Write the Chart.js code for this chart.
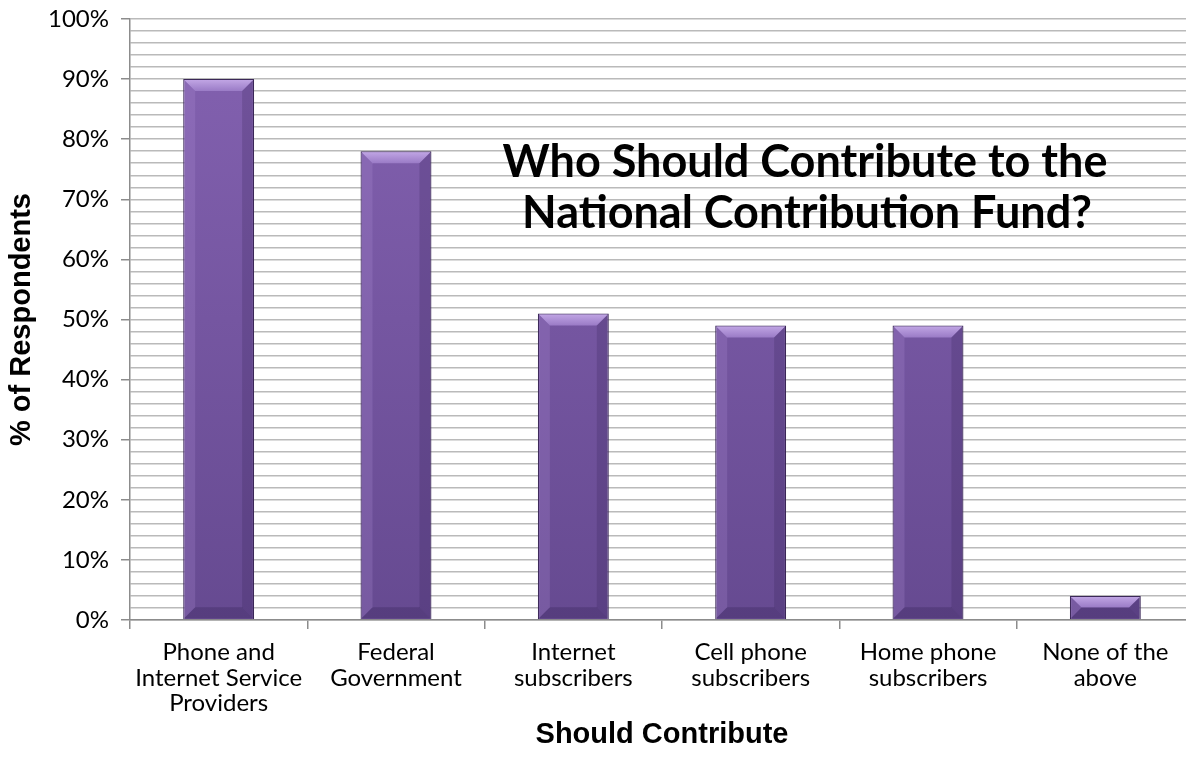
<!DOCTYPE html>
<html>
<head>
<meta charset="utf-8">
<script src="https://cdn.jsdelivr.net/npm/chart.js@4.4.1/dist/chart.umd.min.js"></script>
<style>
  html, body { margin: 0; padding: 0; background: #fff; overflow: hidden; }
  #wrap { width: 1194px; height: 772px; }
</style>
</head>
<body>
<div id="wrap"><canvas id="fundChart" width="1194" height="772"></canvas></div>
<script>
const categories = [
    ['Phone and', 'Internet Service', 'Providers'],
    ['Federal', 'Government'],
    ['Internet', 'subscribers'],
    ['Cell phone', 'subscribers'],
    ['Home phone', 'subscribers'],
    ['None of the', 'above']
];
const respondentPct = [90, 78, 51, 49, 49, 4];
const titleLines = ['Who Should Contribute to the', 'National Contribution Fund?'];

const labelFont = 'Lato, "Open Sans", sans-serif';
const axisTitleFont = '"Liberation Sans", Arial, sans-serif';

// bevelled bar look: light top edge, shaded sides
const bevelPlugin = {
    id: 'bevel',
    afterDatasetsDraw(chart) {
        const ctx = chart.ctx;
        const meta = chart.getDatasetMeta(0);
        meta.data.forEach(bar => {
            const l = bar.x - bar.width / 2, r = bar.x + bar.width / 2;
            const t = bar.y, b = bar.base;
            const bv = Math.min(12, (b - t) / 2);
            ctx.save();
            // top face
            let g = ctx.createLinearGradient(0, t, 0, t + bv);
            g.addColorStop(0, '#c3a8e6');
            g.addColorStop(1, '#9a7bc6');
            ctx.fillStyle = g;
            ctx.beginPath();
            ctx.moveTo(l + 1, t + 1); ctx.lineTo(r - 1, t + 1);
            ctx.lineTo(r - bv, t + bv); ctx.lineTo(l + bv, t + bv);
            ctx.closePath(); ctx.fill();
            // left face
            ctx.fillStyle = 'rgba(170,140,210,0.25)';
            ctx.beginPath();
            ctx.moveTo(l + 1, t + 1); ctx.lineTo(l + bv, t + bv);
            ctx.lineTo(l + bv, b - bv); ctx.lineTo(l + 1, b - 1);
            ctx.closePath(); ctx.fill();
            // right face
            ctx.fillStyle = 'rgba(50,30,80,0.22)';
            ctx.beginPath();
            ctx.moveTo(r - 1, t + 1); ctx.lineTo(r - bv, t + bv);
            ctx.lineTo(r - bv, b - bv); ctx.lineTo(r - 1, b - 1);
            ctx.closePath(); ctx.fill();
            // bottom face
            ctx.fillStyle = 'rgba(40,25,70,0.25)';
            ctx.beginPath();
            ctx.moveTo(l + 1, b - 1); ctx.lineTo(l + bv, b - bv);
            ctx.lineTo(r - bv, b - bv); ctx.lineTo(r - 1, b - 1);
            ctx.closePath(); ctx.fill();
            ctx.restore();
        });
    }
};

// two-line heading drawn inside the plot area
const innerTitlePlugin = {
    id: 'innerTitle',
    afterDraw(chart) {
        const ctx = chart.ctx;
        ctx.save();
        ctx.font = 'bold 45px ' + labelFont;
        ctx.fillStyle = '#000';
        ctx.textAlign = 'center';
        ctx.textBaseline = 'middle';
        ctx.fillText(titleLines[0], 805, 162);
        ctx.fillText(titleLines[1], 807, 213);
        ctx.restore();
    }
};

const ctx = document.getElementById('fundChart').getContext('2d');
const barFill = ctx.createLinearGradient(0, 19, 0, 620);
barFill.addColorStop(0, '#8462b1');
barFill.addColorStop(1, '#664a91');

new Chart(ctx, {
    type: 'bar',
    data: {
        labels: categories,
        datasets: [{
            label: 'Should Contribute',
            data: respondentPct,
            backgroundColor: barFill,
            borderColor: '#3b2858',
            borderWidth: 1.2,
            barPercentage: 0.4,
            categoryPercentage: 1.0
        }]
    },
    options: {
        responsive: false,
        animation: false,
        layout: { padding: { top: 19, left: 5, right: 0, bottom: 20 } },
        plugins: {
            legend: { display: false },
            tooltip: { enabled: false }
        },
        scales: {
            x: {
                afterFit: s => { s.height = 772 - 620 - 20; s.paddingLeft = 0; s.paddingRight = 0; },
                grid: {
                    offset: true,
                    drawOnChartArea: false,
                    drawTicks: true,
                    tickLength: 9,
                    tickColor: '#8c8c8c',
                    lineWidth: 1.5
                },
                border: { color: '#8c8c8c', width: 1.5 },
                ticks: {
                    color: '#000',
                    font: { family: labelFont, size: 24, lineHeight: 1.05 },
                    maxRotation: 0,
                    padding: 11
                },
                title: {
                    display: true,
                    text: 'Should Contribute',
                    color: '#000',
                    font: { family: axisTitleFont, size: 29, weight: 'bold' },
                    padding: 0
                }
            },
            y: {
                min: 0,
                max: 100,
                afterFit: s => { s.width = 130 - 5; s.paddingTop = 0; s.paddingBottom = 0; },
                grid: {
                    color: '#bababa',
                    lineWidth: 1.5,
                    tickLength: 9,
                    tickColor: c => (c.tick && c.tick.value % 10 === 0) ? '#8c8c8c' : 'rgba(0,0,0,0)'
                },
                border: { color: '#8c8c8c', width: 1.5 },
                ticks: {
                    stepSize: 2,
                    autoSkip: false,
                    color: '#000',
                    font: { family: labelFont, size: 24 },
                    padding: 12,
                    callback: v => v % 10 === 0 ? v + '%' : ''
                },
                title: {
                    display: true,
                    text: '% of Respondents',
                    color: '#000',
                    font: { family: axisTitleFont, size: 29, weight: 'bold' },
                    padding: 0
                }
            }
        }
    },
    plugins: [bevelPlugin, innerTitlePlugin]
});
</script>
</body>
</html>
